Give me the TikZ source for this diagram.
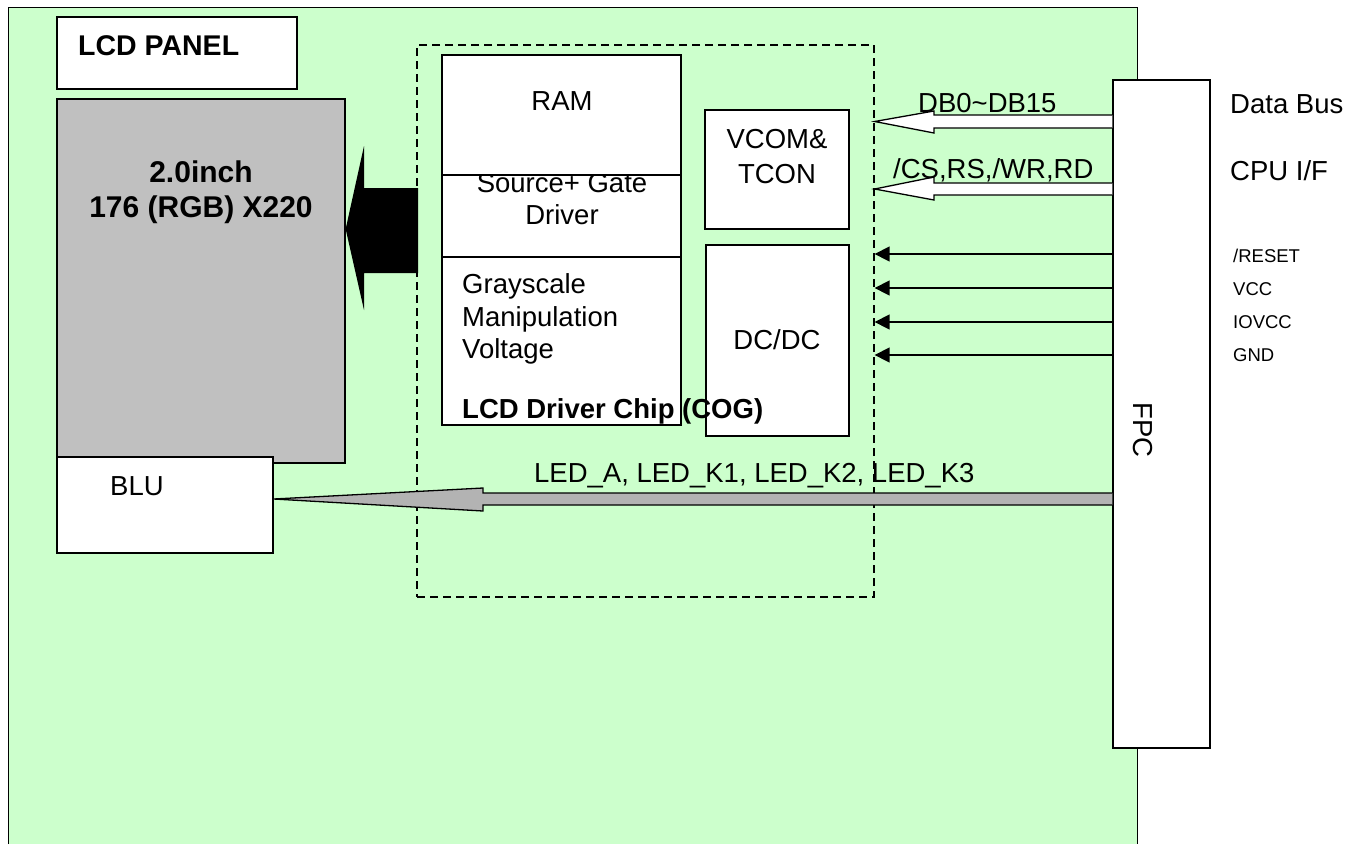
\documentclass[tikz,border=0pt]{standalone}
\usepackage{fontspec}
\setmainfont{Liberation Sans}
\usetikzlibrary{arrows.meta,fit}
\definecolor{boardgreen}{HTML}{CCFFCC}
\definecolor{panelgray}{HTML}{C0C0C0}
\definecolor{arrowgray}{HTML}{B3B3B3}
\tikzset{
  box/.style={draw=black, line width=1.3pt, fill=white, inner sep=0pt},
  txt/.style={inner sep=0pt, font=\fontsize{27.5}{33}\selectfont},
  btxt/.style={inner sep=0pt, font=\fontsize{27.5}{33}\selectfont\bfseries},
  ptxt/.style={inner sep=0pt, font=\fontsize{30}{36}\selectfont\bfseries},
  stxt/.style={inner sep=0pt, font=\fontsize{18.5}{22}\selectfont},
  sig/.style={line width=1.5pt, -{Triangle[length=15pt,width=15pt]}},
  hollow/.style={draw=black, line width=1.3pt, fill=white, line join=miter},
  grayarrow/.style={draw=black, line width=1.3pt, fill=arrowgray, line join=miter},
  chipframe/.style={draw=black, line width=1.3pt, dash pattern=on 8pt off 5pt, inner sep=0pt},
}
\begin{document}
\begin{tikzpicture}[x=1pt,y=-1pt]
\useasboundingbox (0,0) rectangle (1367,844);
\fill[white] (0,0) rectangle (1367,844);
% board
\node[fill=boardgreen, inner sep=0pt, fit={(9,8)(1137,844)}] (board) {};
\draw[line width=1.3pt] (board.south west) -- (board.north west) -- (board.north east) -- (board.south east);
% LCD panel label
\node[box, fit={(57,17)(297,89)}] (panel) {};
\node[btxt, anchor=base west, font=\fontsize{28.5}{34}\selectfont\bfseries] (paneltxt) at (78,55) {LCD PANEL};
% LCD glass
\node[box, fill=panelgray, fit={(57,99)(345,463)}] (lcd) {};
\node[ptxt, anchor=base] (lcdA) at (201,182) {2.0inch};
\node[ptxt, anchor=base] (lcdB) at (201,217) {176 (RGB) X220};
% BLU
\node[box, fit={(57,457)(273,553)}] (blu) {};
\node[txt, anchor=base west] (blutxt) at (110,495) {BLU};
% chip frame
\node[chipframe, fit={(417,45)(874,597)}] (chip) {};
% source + gate driver
\node[box, fit={(442,155)(681,275)}] (src) {};
\node[txt, anchor=base] (srcA) at (562,192) {Source+ Gate};
\node[txt, anchor=base] (srcB) at (562,224) {Driver};
% RAM
\node[box, fit={(442,55)(681,175)}] (ram) {};
\node[txt, anchor=base] (ramtxt) at (562,110) {RAM};
% grayscale
\node[box, fit={(442,257)(681,425)}] (gsv) {};
\node[txt, anchor=base west] (gsvA) at (462,293) {Grayscale};
\node[txt, anchor=base west] (gsvB) at (462,326) {Manipulation};
\node[txt, anchor=base west] (gsvC) at (462,358) {Voltage};
% VCOM & TCON
\node[box, fit={(705,110)(849,229)}] (vcom) {};
\node[txt, anchor=base] (vcomA) at (777,148) {VCOM\&};
\node[txt, anchor=base] (vcomB) at (777,183) {TCON};
% DC/DC
\node[box, fit={(706,245)(849,436)}] (dcdc) {};
\node[txt, anchor=base] (dcdctxt) at (777,349) {DC/DC};
% chip title
\node[btxt, anchor=base west] (chiptxt) at (462,418) {LCD Driver Chip (COG)};
% FPC
\node[box, fit={(1113,80)(1210,748)}] (fpc) {};
\node[txt, rotate=-90] (fpctxt) at (1143,430) {FPC};
% black arrow chip -> lcd
\fill[black] (418,188) -- (364,188) -- (364,146) -- (lcd.east |- 0,229) -- (364,310) -- (364,273) -- (418,273) -- cycle;
% hollow bus arrows
\draw[hollow] (fpc.west |- 0,115) -- (934,115) -- (934,111) -- (chip.east |- 0,121.5) -- (934,133) -- (934,128) -- (fpc.west |- 0,128);
\draw[hollow] (fpc.west |- 0,183) -- (934,183) -- (934,177) -- (chip.east |- 0,189) -- (934,200) -- (934,195) -- (fpc.west |- 0,195);
\node[txt, anchor=base west] (dbtxt) at (918,112) {DB0\textasciitilde DB15};
\node[txt, anchor=base west] (cstxt) at (893,178) {/CS,RS,/WR,RD};
% power / reset arrows
\draw[sig] (fpc.west |- 0,254) -- (chip.east |- 0,254);
\draw[sig] (fpc.west |- 0,288) -- (chip.east |- 0,288);
\draw[sig] (fpc.west |- 0,322) -- (chip.east |- 0,322);
\draw[sig] (fpc.west |- 0,355) -- (chip.east |- 0,355);
% LED arrow
\draw[grayarrow] (fpc.west |- 0,493) -- (483,493) -- (483,488) -- (blu.east |- 0,499) -- (483,511) -- (483,505) -- (fpc.west |- 0,505);
\node[txt, anchor=base west] (ledtxt) at (534,482) {LED\_A, LED\_K1, LED\_K2, LED\_K3};
% right labels
\node[txt, anchor=base west] (databus) at (1230,113) {Data Bus};
\node[txt, anchor=base west] (cpuif) at (1230,180) {CPU I/F};
\node[stxt, anchor=base west] (rst) at (1233,262) {/RESET};
\node[stxt, anchor=base west] (vcc) at (1233,295) {VCC};
\node[stxt, anchor=base west] (iovcc) at (1233,328) {IOVCC};
\node[stxt, anchor=base west] (gnd) at (1233,361) {GND};
\end{tikzpicture}
\end{document}
